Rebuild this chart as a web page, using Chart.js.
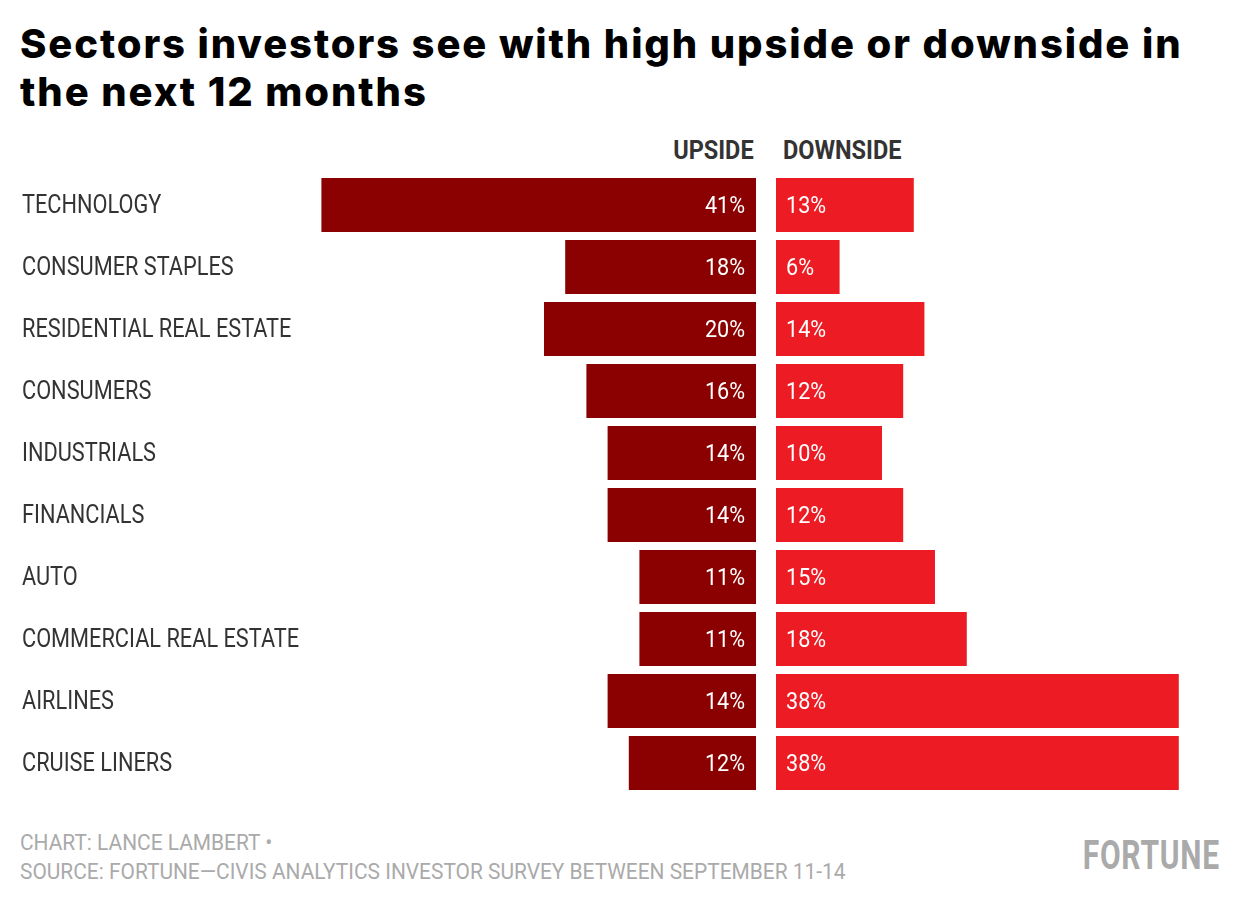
<!DOCTYPE html>
<html>
<head>
<meta charset="utf-8">
<script src="https://cdn.jsdelivr.net/npm/chart.js@4"></script>
<style>
  body { margin: 0; width: 1240px; height: 906px; background: #fff; position: relative; overflow: hidden; font-family: "Liberation Sans Narrow", Roboto, sans-serif; }
  #title { position: absolute; left: 20px; top: 20px; width: 1200px; font-family: Inter, "DejaVu Sans", sans-serif; font-weight: 800; font-size: 40px; line-height: 48px; color: #000; letter-spacing: 1.9px; }
  .hdr { position: absolute; top: 136px; font-size: 25px; font-weight: bold; color: #333; transform: scaleX(0.94); }
  .foot { position: absolute; left: 20px; font-size: 22px; color: #aaa; transform: scaleX(0.95); transform-origin: left; white-space: nowrap; }
  #logo { position: absolute; right: 20px; top: 832px; font-size: 40px; font-weight: bold; color: #aaa; letter-spacing: 1px; transform: scaleX(0.75); transform-origin: right; }
  canvas { position: absolute; }
</style>
</head>
<body>
<div id="title">Sectors investors see with high upside or downside in the next 12 months</div>
<div class="hdr" style="right:486px;transform-origin:right">UPSIDE</div>
<div class="hdr" style="left:783px;transform-origin:left">DOWNSIDE</div>
<div id="lw" style="position:absolute;left:0;top:174px;width:756px;height:620px"><canvas id="left"></canvas></div>
<div id="rw" style="position:absolute;left:776px;top:174px;width:464px;height:620px"><canvas id="right"></canvas></div>
<div class="foot" style="top:830px">CHART: LANCE LAMBERT •</div>
<div class="foot" style="top:859px">SOURCE: FORTUNE—CIVIS ANALYTICS INVESTOR SURVEY BETWEEN SEPTEMBER 11-14</div>
<div id="logo">FORTUNE</div>
<script>
const sectors = ['TECHNOLOGY', 'CONSUMER STAPLES', 'RESIDENTIAL REAL ESTATE', 'CONSUMERS', 'INDUSTRIALS', 'FINANCIALS', 'AUTO', 'COMMERCIAL REAL ESTATE', 'AIRLINES', 'CRUISE LINERS'];
const upside = [41, 18, 20, 16, 14, 14, 11, 11, 14, 12];
const downside = [13, 6, 14, 12, 10, 12, 15, 18, 38, 38];

const font = '"Liberation Sans Narrow", Roboto, sans-serif';

function narrowText(ctx, text, x, y, align, sx) {
  ctx.save();
  ctx.translate(x, y);
  ctx.scale(sx, 1);
  ctx.textAlign = align;
  ctx.fillText(text, 0, 0);
  ctx.restore();
}

const valueLabels = {
  id: 'valueLabels',
  afterDatasetsDraw(chart, args, opts) {
    const ctx = chart.ctx;
    const meta = chart.getDatasetMeta(0);
    ctx.save();
    ctx.font = '24px ' + font;
    ctx.fillStyle = '#fff';
    ctx.textBaseline = 'middle';
    meta.data.forEach((bar, i) => {
      const v = chart.data.datasets[0].data[i] + '%';
      if (opts.side === 'left') {
        narrowText(ctx, v, bar.base - 11, bar.y + 2, 'right', 0.9);
      } else {
        narrowText(ctx, v, bar.base + 10, bar.y + 2, 'left', 0.9);
      }
    });
    if (opts.side === 'left') {
      ctx.font = '25px ' + font;
      ctx.fillStyle = '#333';
      const ys = chart.scales.y;
      sectors.forEach((s, i) => narrowText(ctx, s, 22, ys.getPixelForValue(i) + 2, 'left', 0.87));
    }
    ctx.restore();
  }
};

function makeChart(id, data, color, max, reverse, side) {
  return new Chart(document.getElementById(id), {
    type: 'bar',
    data: { labels: sectors, datasets: [{ data: data, backgroundColor: color, barPercentage: 54 / 62, categoryPercentage: 1 }] },
    options: {
      indexAxis: 'y',
      responsive: true,
      maintainAspectRatio: false,
      animation: false,
      layout: { padding: 0 },
      plugins: { legend: { display: false }, tooltip: { enabled: false }, valueLabels: { side: side } },
      scales: {
        x: { display: false, min: 0, max: max, reverse: reverse },
        y: { display: false }
      }
    },
    plugins: [valueLabels]
  });
}

makeChart('left', upside, '#8b0000', 756 / 10.6, true, 'left');
makeChart('right', downside, '#ed1c24', 464 / 10.6, false, 'right');
</script>
</body>
</html>
